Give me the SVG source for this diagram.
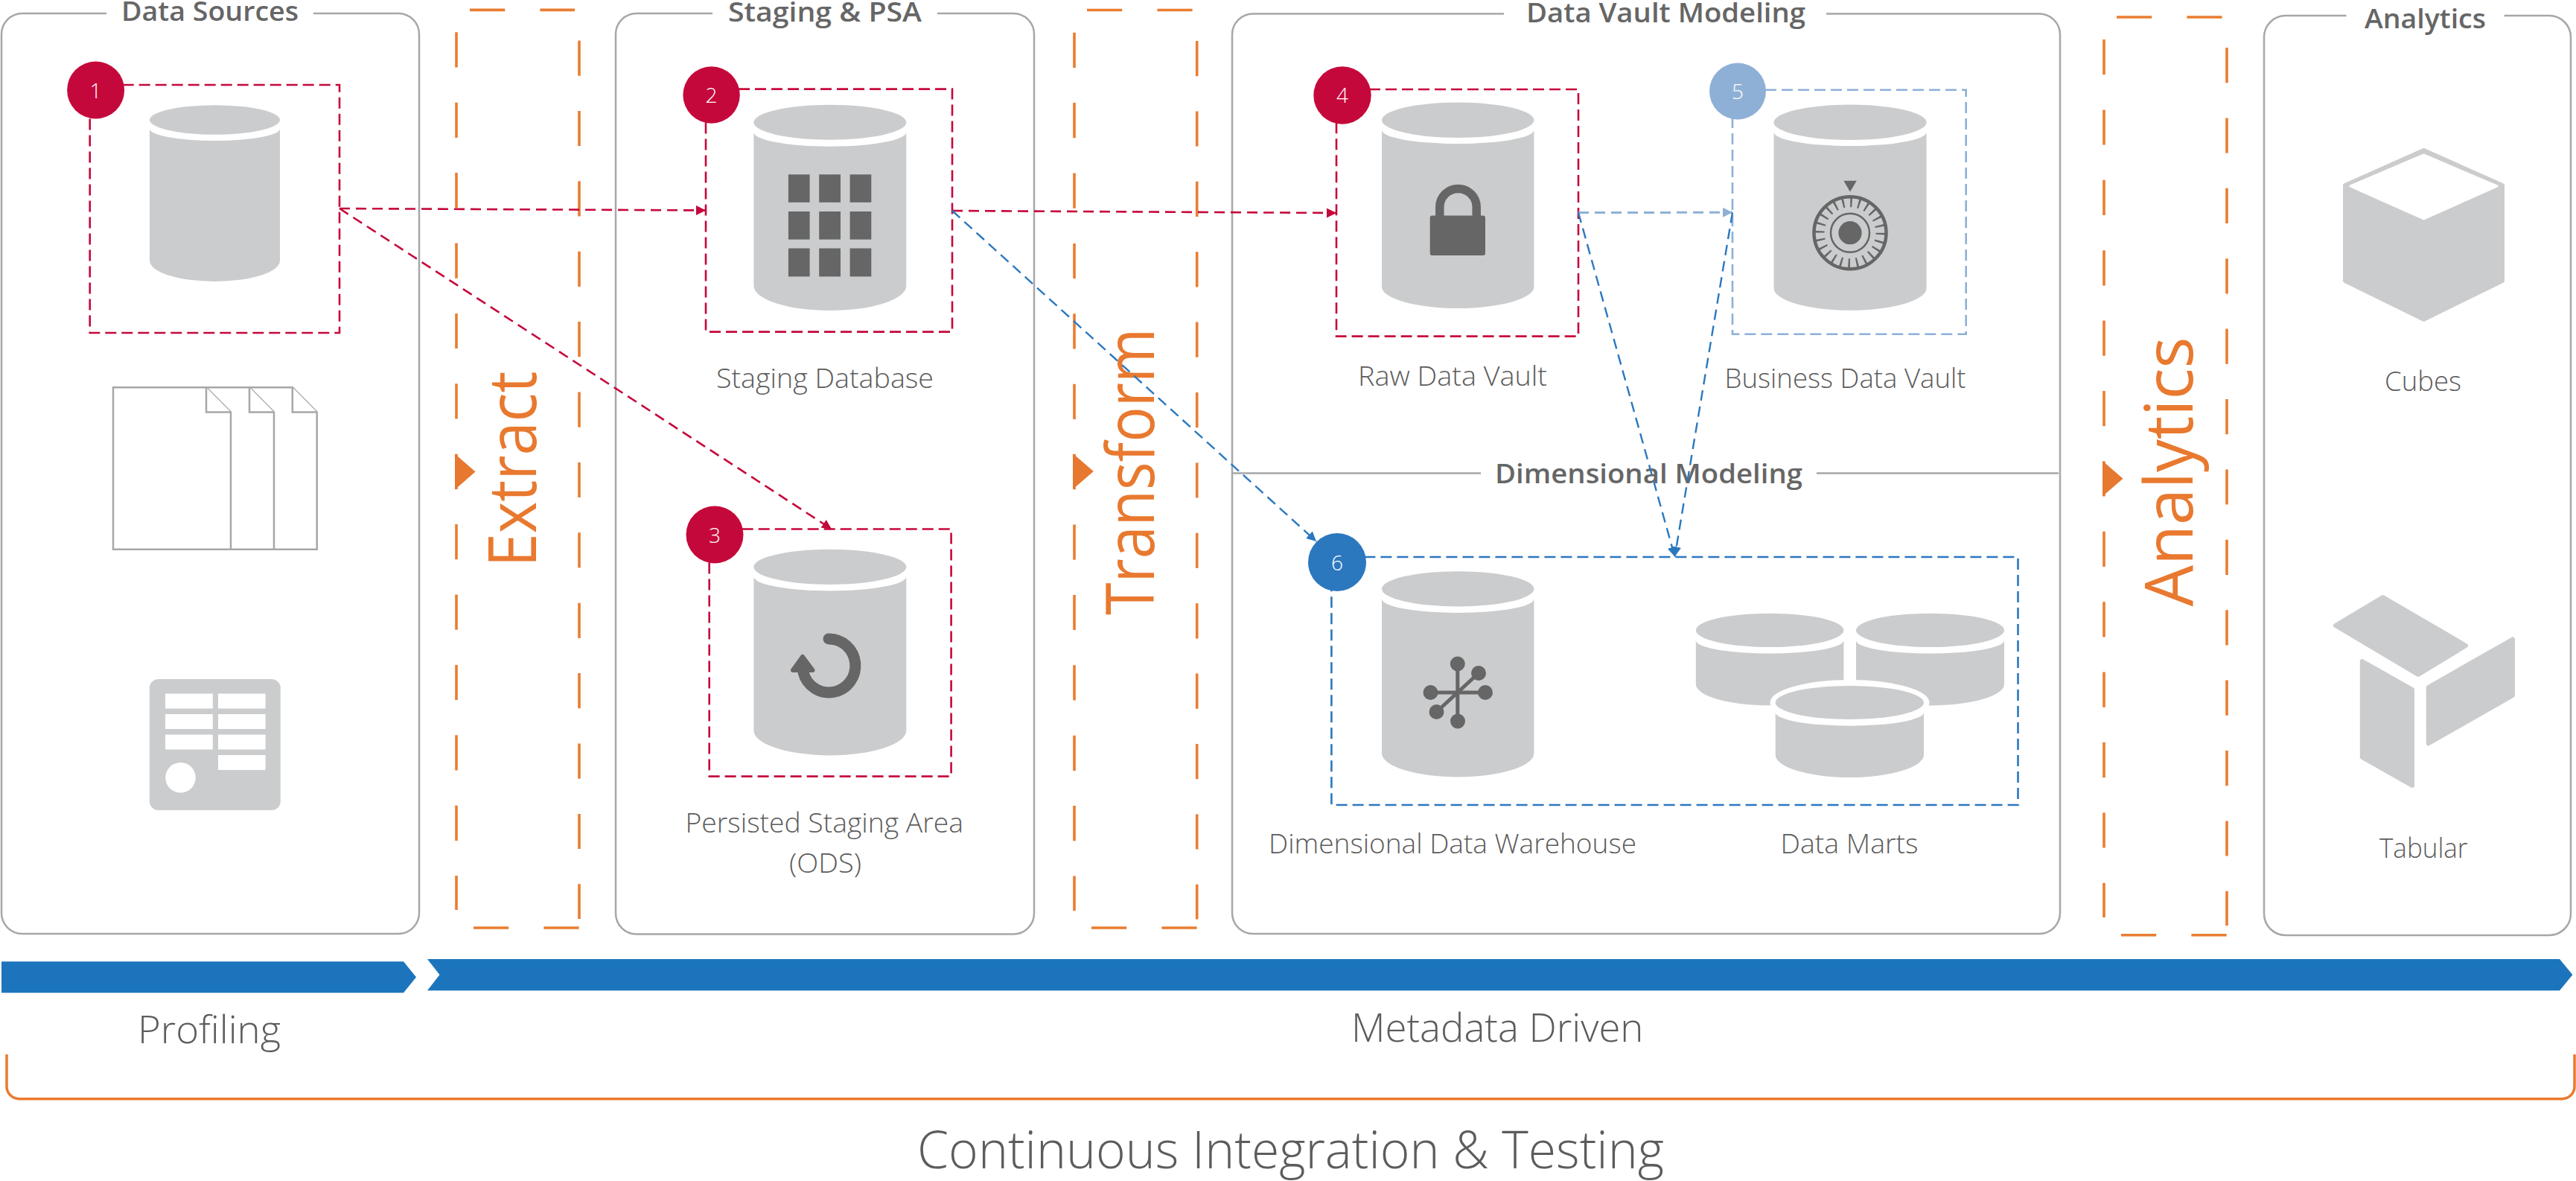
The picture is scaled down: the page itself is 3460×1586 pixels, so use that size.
<svg xmlns="http://www.w3.org/2000/svg" width="3460" height="1586" viewBox="0 0 3460 1586">
<style>
text{font-family:"Open Sans","Noto Sans","Liberation Sans",sans-serif;fill:#666}
.lbl{font-size:37px;font-weight:300;fill:#5c5c5c}
.ttl{font-size:36px;font-weight:600}
.num{font-size:28px;font-weight:300;fill:#fff;text-anchor:middle}
.stage{font-size:90px;font-weight:400;fill:#e8792f}
.big{font-weight:300;fill:#5c5c5c}
.panel{fill:none;stroke:#a6a7a9;stroke-width:2.5}
.gr{fill:#cbccce}
.dk{fill:#666}
.dash{fill:none;stroke:#e97d31;stroke-width:3.6;stroke-dasharray:47.2 47.2}
.red{fill:none;stroke:#c5083b;stroke-width:2.6;stroke-dasharray:15 7}
.lblue{fill:none;stroke:#8eb0d6;stroke-width:2.6;stroke-dasharray:15 7}
.blue{fill:none;stroke:#2b78bf;stroke-width:2.6;stroke-dasharray:15 7}
.doc{fill:#fff;stroke:#a6a7a9;stroke-width:2.5;stroke-linejoin:miter}
.cr{fill:none;stroke:#c5083b;stroke-width:2.6;stroke-dasharray:14 8}
.cl{fill:none;stroke:#8eb0d6;stroke-width:3;stroke-dasharray:14 8}
.cb{fill:none;stroke:#2b78bf;stroke-width:2.4;stroke-dasharray:14 8}
.tri{fill:#e67830}
</style>
<defs>
<marker id="mr" markerUnits="userSpaceOnUse" markerWidth="14" markerHeight="14" refX="13" refY="6.5" orient="auto"><path d="M0,0L13,6.5L0,13Z" fill="#c5083b"/></marker>
<marker id="ml" markerUnits="userSpaceOnUse" markerWidth="14" markerHeight="14" refX="13" refY="6.5" orient="auto"><path d="M0,0L13,6.5L0,13Z" fill="#8eb0d6"/></marker>
<marker id="mb" markerUnits="userSpaceOnUse" markerWidth="14" markerHeight="14" refX="13" refY="6.5" orient="auto"><path d="M0,0L13,6.5L0,13Z" fill="#2b78bf"/></marker>
</defs>
<rect width="3460" height="1586" fill="#fff"/>

<g id="panel-data-sources">
<path class="panel" d="M421,18H535A28,28 0 0 1 563,46V1226A28,28 0 0 1 535,1254H30A28,28 0 0 1 2,1226V46A28,28 0 0 1 30,18H143"/>
<text class="ttl" x="163" y="28" textLength="238" lengthAdjust="spacingAndGlyphs">Data Sources</text>
</g>
<g id="panel-staging">
<path class="panel" d="M1259,18H1361A28,28 0 0 1 1389,46V1226.500A28,28 0 0 1 1361,1254.500H855A28,28 0 0 1 827,1226.500V46A28,28 0 0 1 855,18H957"/>
<text class="ttl" x="978" y="29" textLength="260" lengthAdjust="spacingAndGlyphs">Staging &amp; PSA</text>
</g>
<g id="panel-data-vault">
<path class="panel" d="M2453,18.500H2739A28,28 0 0 1 2767,46.500V1226A28,28 0 0 1 2739,1254H1683A28,28 0 0 1 1655,1226V46.500A28,28 0 0 1 1683,18.500H2020"/>
<text class="ttl" x="2050" y="29.500" textLength="375" lengthAdjust="spacingAndGlyphs">Data Vault Modeling</text>
<path class="panel" d="M1655,635.500H1989M2440,635.500H2765"/>
<text class="ttl" x="2008" y="649" textLength="413" lengthAdjust="spacingAndGlyphs">Dimensional Modeling</text>
</g>
<g id="panel-analytics">
<path class="panel" d="M3363.600,21H3424A29,29 0 0 1 3453,50V1227A29,29 0 0 1 3424,1256H3070A29,29 0 0 1 3041,1227V50A29,29 0 0 1 3070,21H3151.500"/>
<text class="ttl" x="3176" y="38" textLength="163" lengthAdjust="spacingAndGlyphs">Analytics</text>
</g>

<g id="stage-extract">
<path class="dash" d="M613,43.300V1222"/><path class="dash" d="M778,54.500V1234"/>
<path class="dash" d="M631,13.400H772"/><path class="dash" d="M636,1246H778"/>
<path class="tri" d="M611,609.500L638.500,633.500L611,657.500Z"/>
<text class="stage" transform="translate(720,761.500) rotate(-90)" textLength="263" lengthAdjust="spacingAndGlyphs">Extract</text>
</g>
<g id="stage-transform">
<path class="dash" d="M1443,43.700V1223"/><path class="dash" d="M1607.700,55V1234.500"/>
<path class="dash" d="M1460,13.500H1602"/><path class="dash" d="M1466,1246H1608"/>
<path class="tri" d="M1441,609L1468.800,633L1441,657Z"/>
<text class="stage" transform="translate(1549.700,826) rotate(-90)" textLength="385" lengthAdjust="spacingAndGlyphs">Transform</text>
</g>
<g id="stage-analytics">
<path class="dash" d="M2826,53V1232"/><path class="dash" d="M2991,64V1243"/>
<path class="dash" d="M2843,23H2985"/><path class="dash" d="M2849,1255.700H2991"/>
<path class="tri" d="M2824,619L2851.500,642.700L2824,666.500Z"/>
<text class="stage" transform="translate(2944.800,814.500) rotate(-90)" textLength="362" lengthAdjust="spacingAndGlyphs">Analytics</text>
</g>

<g id="node-1">
<rect class="red" x="120.700" y="114" width="335.300" height="333"/>
<ellipse class="gr" cx="288.500" cy="161" rx="87.500" ry="19.700"/>
<path class="gr" d="M201,173A87.500,16 0 0 0 376,173V350A87.500,28 0 0 1 201,350Z"/>
<circle cx="128.600" cy="121" r="38.500" fill="#c5083b"/>
<text class="num" x="128.600" y="131.700">1</text>
</g>
<g id="node-files">
<path class="doc" d="M335,520.300H392.800L425.700,553.500V737.700H368"/><path class="doc" d="M392.800,520.300V553.500H425.700"/>
<path class="doc" d="M277,520.300H335L368,553.500V737.700H310"/><path class="doc" d="M335,520.300V553.500H368"/>
<path class="doc" d="M152,520.300H277L310,553.500V737.700H152Z"/><path class="doc" d="M277,520.300V553.500H310"/>
</g>
<g id="node-form">
<rect class="gr" x="200.800" y="912" width="176" height="176" rx="12"/>
<g fill="#fff">
<rect x="222" y="931.500" width="63.800" height="20"/><rect x="293" y="931.500" width="63.600" height="20"/>
<rect x="222" y="959" width="63.800" height="20"/><rect x="293" y="959" width="63.600" height="20"/>
<rect x="222" y="986.500" width="63.800" height="20"/><rect x="293" y="986.500" width="63.600" height="20"/>
<rect x="293" y="1014" width="63.600" height="20"/>
<circle cx="242.500" cy="1044.300" r="20.300"/>
</g>
</g>

<g id="node-2">
<rect class="red" x="948" y="119.600" width="331" height="326"/>
<ellipse class="gr" cx="1114.850" cy="164.300" rx="102.450" ry="23.500"/>
<path class="gr" d="M1012.400,177.500A102.450,19.200 0 0 0 1217.300,177.500V383.700A102.450,33.300 0 0 1 1012.400,383.700Z"/>
<g class="dk">
<rect x="1058.900" y="234.300" width="28.700" height="37.500"/><rect x="1100.200" y="234.300" width="28.800" height="37.500"/><rect x="1141.600" y="234.300" width="28.700" height="37.500"/>
<rect x="1058.900" y="284" width="28.700" height="37.600"/><rect x="1100.200" y="284" width="28.800" height="37.600"/><rect x="1141.600" y="284" width="28.700" height="37.600"/>
<rect x="1058.900" y="333.500" width="28.700" height="37.900"/><rect x="1100.200" y="333.500" width="28.800" height="37.900"/><rect x="1141.600" y="333.500" width="28.700" height="37.900"/>
</g>
<circle cx="955.600" cy="127.500" r="38.200" fill="#c5083b"/>
<text class="num" x="955.600" y="138">2</text>
<text class="lbl" x="962" y="521" textLength="292" lengthAdjust="spacingAndGlyphs">Staging Database</text>
</g>
<g id="node-3">
<rect class="red" x="952.700" y="710.500" width="324.900" height="332.100"/>
<ellipse class="gr" cx="1114.850" cy="761.400" rx="102.450" ry="23.600"/>
<path class="gr" d="M1012.400,774.400A102.450,19 0 0 0 1217.300,774.400V981A102.450,33.400 0 0 1 1012.400,981Z"/>
<path d="M1113,858A35.500,36 0 1 1 1079,903" fill="none" stroke="#666" stroke-width="15" stroke-linecap="round"/>
<path class="dk" d="M1078,882L1091.500,900H1065Z" stroke="#666" stroke-width="6" stroke-linejoin="round"/>
<circle cx="960" cy="718" r="38.500" fill="#c5083b"/>
<text class="num" x="960" y="729.400">3</text>
<text class="lbl" x="920.500" y="1118" textLength="373.500" lengthAdjust="spacingAndGlyphs">Persisted Staging Area</text>
<text class="lbl" x="1060" y="1172" textLength="97" lengthAdjust="spacingAndGlyphs">(ODS)</text>
</g>
<g id="node-4">
<rect class="red" x="1795" y="120" width="325" height="331.600"/>
<ellipse class="gr" cx="1958.200" cy="161.300" rx="102.200" ry="23.700"/>
<path class="gr" d="M1856,174.700A102.200,18.300 0 0 0 2060.400,174.700V385A102.200,29 0 0 1 1856,385Z"/>
<path d="M1933.800,291V278A24.700,24.500 0 0 1 1983.200,278V291" fill="none" stroke="#666" stroke-width="11.500"/>
<rect class="dk" x="1920.700" y="289.600" width="74.300" height="53.400" rx="3"/>
<circle cx="1803" cy="128" r="38.700" fill="#c5083b"/>
<text class="num" x="1803" y="137.600">4</text>
<text class="lbl" x="1824" y="517.700" textLength="254" lengthAdjust="spacingAndGlyphs">Raw Data Vault</text>
</g>
<g id="node-5">
<rect class="lblue" x="2327" y="120.800" width="313.700" height="327.900"/>
<ellipse class="gr" cx="2485.050" cy="164.300" rx="102.550" ry="23.700"/>
<path class="gr" d="M2382.500,177.500A102.550,18.500 0 0 0 2587.600,177.500V387A102.550,29.700 0 0 1 2382.500,387Z"/>
<g fill="none" stroke="#666">
<circle cx="2485" cy="312.700" r="48.500" stroke-width="4.500"/>
<circle cx="2485" cy="312.700" r="41" stroke-width="13" stroke-dasharray="2.500 8.230"/>
<circle cx="2485" cy="312.700" r="26" stroke-width="2.500"/>
</g>
<circle class="dk" cx="2485" cy="312.700" r="15.600"/>
<path class="dk" d="M2476.400,242.800H2493.800L2485,257.600Z"/>
<circle cx="2334" cy="122.500" r="38" fill="#8fb0d6"/>
<text class="num" x="2334" y="133">5</text>
<text class="lbl" x="2316.500" y="520.600" textLength="324" lengthAdjust="spacingAndGlyphs">Business Data Vault</text>
</g>
<g id="node-6">
<rect class="blue" x="1788.400" y="748" width="922.100" height="333"/>
<ellipse class="gr" cx="1958.200" cy="790.800" rx="102.200" ry="23.600"/>
<path class="gr" d="M1856,804.300A102.200,18.600 0 0 0 2060.400,804.300V1011.400A102.200,32 0 0 1 1856,1011.400Z"/>
<path d="M1957.800,891.500V968.500M1921.500,930H1995M1929.500,956L1986,904" fill="none" stroke="#666" stroke-width="5"/>
<g class="dk"><circle cx="1957.800" cy="891.500" r="10"/><circle cx="1986" cy="904" r="10"/><circle cx="1995" cy="930" r="10"/><circle cx="1958" cy="968.500" r="10"/><circle cx="1929.500" cy="956" r="10"/><circle cx="1921.500" cy="930" r="10"/></g>
<circle cx="1796" cy="755" r="39" fill="#2b78bf"/>
<text class="num" x="1796" y="766">6</text>
<text class="lbl" x="1704" y="1146" textLength="494" lengthAdjust="spacingAndGlyphs">Dimensional Data Warehouse</text>
</g>
<g id="node-marts">
<ellipse class="gr" cx="2377.100" cy="846.400" rx="99.300" ry="22.700"/>
<path class="gr" d="M2277.800,860A99.300,17.600 0 0 0 2476.400,860V918.800A99.300,28.600 0 0 1 2277.800,918.800Z"/>
<ellipse class="gr" cx="2592.500" cy="846.400" rx="99.500" ry="22.700"/>
<path class="gr" d="M2493,860A99.500,17.600 0 0 0 2692,860V918.800A99.500,28.600 0 0 1 2493,918.800Z"/>
<ellipse cx="2484.500" cy="943.500" rx="107" ry="30.500" fill="#fff"/>
<ellipse class="gr" cx="2484.350" cy="943.500" rx="99.650" ry="22.500"/>
<path class="gr" d="M2384.700,956.700A99.650,18 0 0 0 2584,956.700V1013.500A99.650,30.500 0 0 1 2384.700,1013.500Z"/>
<text class="lbl" x="2391.500" y="1146" textLength="185" lengthAdjust="spacingAndGlyphs">Data Marts</text>
</g>
<g id="node-cubes">
<path class="gr" d="M3255.500,202L3361,249V377L3255.500,428.700L3150,377V249Z" stroke="#cbccce" stroke-width="6" stroke-linejoin="round"/>
<path d="M3255.500,208L3354,250L3255.500,294L3157,250Z" fill="#fff" stroke="#fff" stroke-width="3" stroke-linejoin="round"/>
<text class="lbl" x="3203" y="524.500" textLength="103" lengthAdjust="spacingAndGlyphs">Cubes</text>
</g>
<g id="node-tabular">
<g class="gr" stroke="#cbccce" stroke-width="6" stroke-linejoin="round">
<path d="M3200.600,802L3312,867L3248,906L3137,840Z"/>
<path d="M3172.800,888L3240,926V1055L3172.800,1017Z"/>
<path d="M3374.900,858.500V934L3261.700,998.500V923Z"/>
</g>
<text class="lbl" x="3196" y="1152" textLength="118.500" lengthAdjust="spacingAndGlyphs">Tabular</text>
</g>

<g id="bars">
<path d="M2,1291.300H542L559,1312.300L542,1333.300H2Z" fill="#1c75bc"/>
<path d="M574,1288H3438L3455.400,1309L3438,1330.300H574L590.500,1309Z" fill="#1c75bc"/>
<text class="big" x="185" y="1401" font-size="52" textLength="192" lengthAdjust="spacingAndGlyphs">Profiling</text>
<text class="big" x="1815" y="1398.500" font-size="54" textLength="392.500" lengthAdjust="spacingAndGlyphs">Metadata Driven</text>
<path d="M9,1416V1459A16.700,16.700 0 0 0 25.700,1475.700H3441.300A16.700,16.700 0 0 0 3458,1459V1416" fill="none" stroke="#ea7a2e" stroke-width="3.500"/>
<text class="big" x="1232" y="1569" font-size="70" textLength="1003" lengthAdjust="spacingAndGlyphs">Continuous Integration &amp; Testing</text>
</g>

<g id="connectors">
<path class="cr" d="M456,280L948,282.500" marker-end="url(#mr)"/>
<path class="cr" d="M456,280L1117,710.500" marker-end="url(#mr)"/>
<path class="cr" d="M1279,283L1795,286" marker-end="url(#mr)"/>
<path class="cb" d="M1279,283L1768,727" marker-end="url(#mb)"/>
<path class="cl" d="M2120,285.500L2327,285.300" marker-end="url(#ml)"/>
<path class="cb" d="M2120,285.500L2249.500,747.500" marker-end="url(#mb)"/>
<path class="cb" d="M2327,285.500L2249.500,747.500" marker-end="url(#mb)"/>
</g>
</svg>
